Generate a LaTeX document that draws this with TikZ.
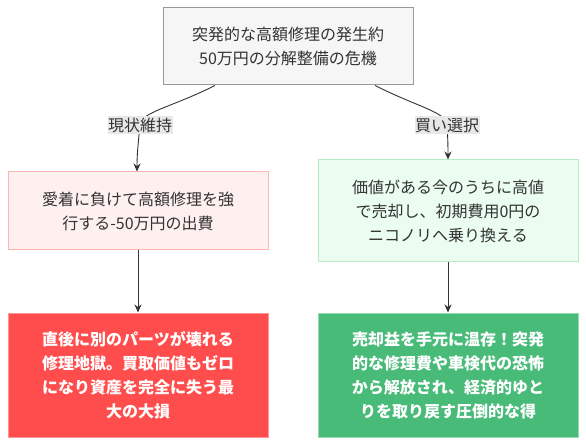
\documentclass[tikz,border=0pt]{standalone}
\usepackage{fontspec}
\setmainfont{Noto Sans CJK JP}
\usetikzlibrary{arrows.meta}
\definecolor{txt}{HTML}{333333}
\definecolor{edgec}{HTML}{333333}
\tikzset{
  box/.style={draw, line width=1pt, align=center, inner sep=0pt, font=\fontsize{16}{24}\selectfont, text=txt, minimum width=260pt},
  topbox/.style={box, fill={rgb,255:red,246;green,246;blue,246}, draw={rgb,255:red,153;green,153;blue,153}, minimum width=250pt, minimum height=77pt},
  badbox/.style={box, fill={rgb,255:red,255;green,240;blue,240}, draw={rgb,255:red,255;green,180;blue,180}, minimum height=78pt},
  goodbox/.style={box, fill={rgb,255:red,234;green,253;blue,240}, draw={rgb,255:red,178;green,235;blue,196}, minimum height=102pt},
  worstbox/.style={box, fill={rgb,255:red,255;green,77;blue,77}, draw={rgb,255:red,255;green,150;blue,150}, text=white, minimum height=124pt, font=\fontsize{16}{24}\selectfont\bfseries},
  bestbox/.style={box, fill={rgb,255:red,72;green,187;blue,120}, draw={rgb,255:red,150;green,220;blue,175}, text=white, minimum height=124pt, font=\fontsize{16}{24}\selectfont\bfseries},
  lbl/.style={fill={rgb,255:red,232;green,232;blue,232}, text=txt, font=\fontsize{16}{18}\selectfont, inner xsep=0.5pt, inner ysep=2pt},
  edge/.style={draw=edgec, line width=0.9pt, -{Stealth[length=8pt,width=7pt]}},
}
\begin{document}
\begin{tikzpicture}[x=1pt,y=1pt]
\useasboundingbox (0,0) rectangle (586,-446);
\node[topbox] (top) at (288,-46.5) {突発的な高額修理の発生約\\50万円の分解整備の危機};
\node[badbox] (left) at (138,-211) {愛着に負けて高額修理を強\\行する-50万円の出費};
\node[goodbox] (right) at (448,-211) {価値がある今のうちに高値\\で売却し、初期費用0円の\\ニコノリへ乗り換える};
\node[worstbox] (bl) at (138,-375) {直後に別のパーツが壊れる\\修理地獄。買取価値もゼロ\\になり資産を完全に失う最\\大の大損};
\node[bestbox] (br) at (448,-375) {売却益を手元に温存！突発\\的な修理費や車検代の恐怖\\から解放され、経済的ゆと\\りを取り戻す圧倒的な得};
\coordinate (tl) at (215,-85.5);
\coordinate (tr) at (375,-85.5);
\draw[edge] (tl) .. controls (170,-108) and (141,-112) .. (140,-125) .. controls (138,-145) and (137,-155) .. (left.north -| 137,0);
\draw[edge] (tr) .. controls (420,-108) and (446,-112) .. (447,-125) .. controls (448,-140) and (448,-150) .. (right.north -| 448,0);
\node[lbl] (l1) at (140,-125) {現状維持};
\node[lbl] (l2) at (447,-125) {買い選択};
\draw[edge] (left.south) -- (bl.north);
\draw[edge] (right.south) -- (br.north);
\end{tikzpicture}
\end{document}
